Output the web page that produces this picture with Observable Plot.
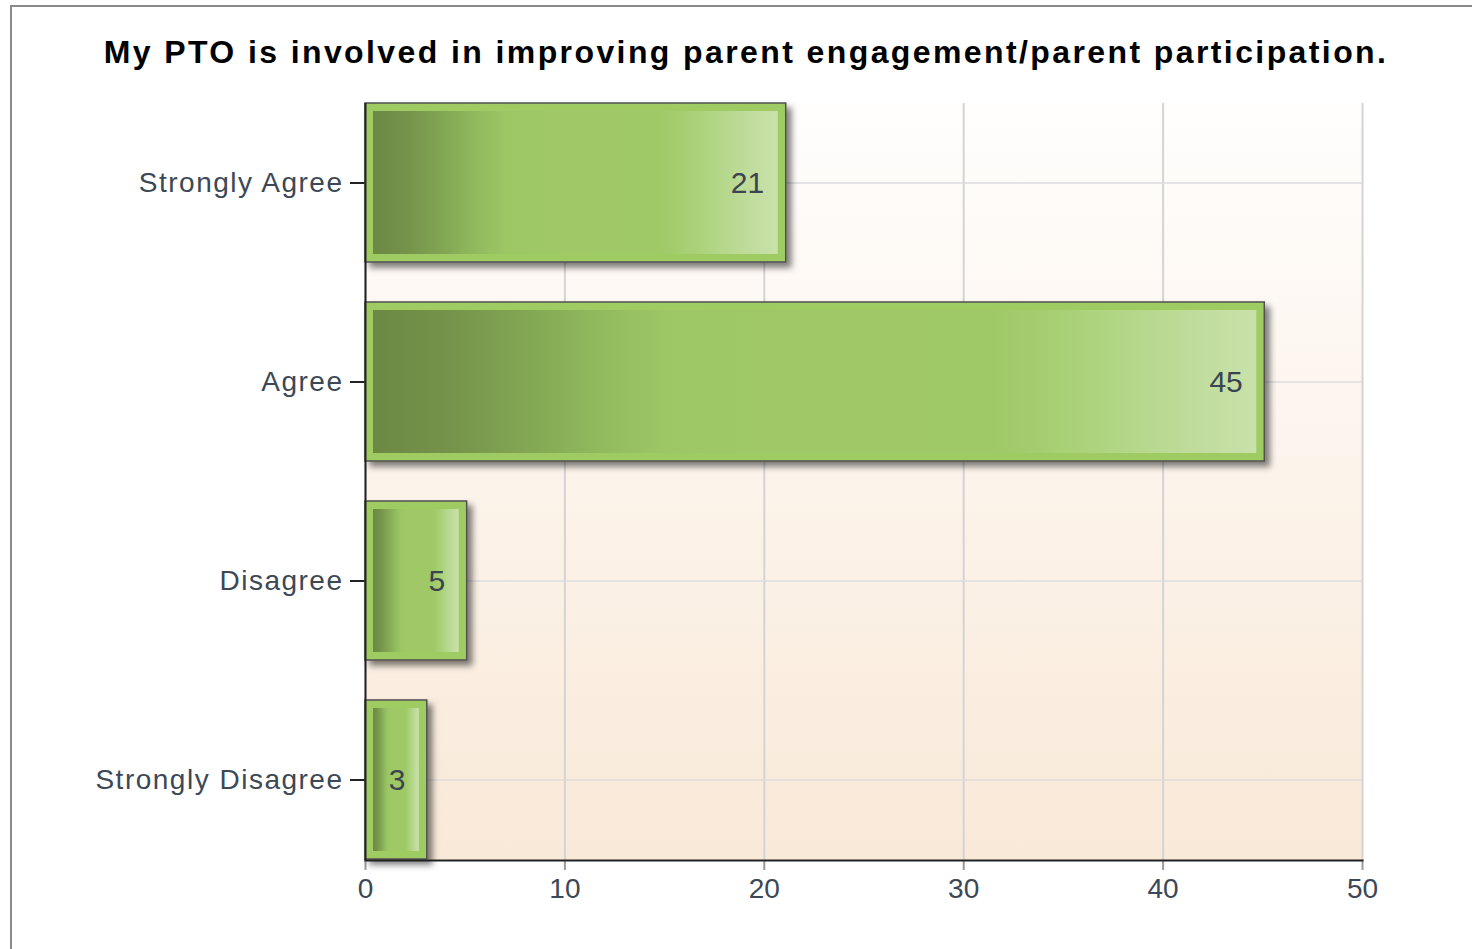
<!DOCTYPE html>
<html>
<head>
<meta charset="utf-8">
<script src="https://cdn.jsdelivr.net/npm/d3@7"></script>
<script src="https://cdn.jsdelivr.net/npm/@observablehq/plot@0.6"></script>
<style>
  html, body { margin: 0; padding: 0; background: #ffffff; overflow: hidden; }
  #wrap { position: relative; width: 1472px; height: 949px; overflow: hidden; }
  #border { position: absolute; left: 10px; top: 5px; width: 1600px; height: 1100px; border: 2px solid #8a8a8a; box-sizing: border-box; }
  #title { position: absolute; left: 0; top: 36px; width: 1492px; text-align: center;
           font-family: "Liberation Sans", Arial, sans-serif; font-weight: bold; font-size: 32px;
           line-height: 32px; letter-spacing: 2.4px; color: #000; white-space: nowrap; }
  #chart { position: absolute; left: 0; top: 0; }
</style>
</head>
<body>
<div id="wrap">
  <div id="border"></div>
  <div id="chart"></div>
  <div id="title"></div>
</div>
<script>
const categories = ["Strongly Agree", "Agree", "Disagree", "Strongly Disagree"];
const counts = [21, 45, 5, 3];
const xTicks = [0, 10, 20, 30, 40, 50];
const titleText = "My PTO is involved in improving parent engagement/parent participation.";

document.getElementById("title").textContent = titleText;

const data = categories.map((c, i) => ({category: c, count: counts[i]}));

const chart = Plot.plot({
  width: 1472,
  height: 949,
  marginLeft: 365,
  marginRight: 110,
  marginTop: 103,
  marginBottom: 89,
  style: {background: "transparent", fontFamily: "'Liberation Sans', Arial, sans-serif", color: "#3c4855"},
  x: {domain: [0, 50], axis: null},
  y: {domain: categories, paddingInner: 0.2, paddingOuter: 0, axis: null},
  marks: [
    Plot.frame({fill: "url(#bgGrad)", stroke: null}),
    Plot.gridX(xTicks, {stroke: "#d4d4d4", strokeOpacity: 1, strokeWidth: 2}),
    Plot.gridY(categories, {stroke: "#dcdcdc", strokeOpacity: 1, strokeWidth: 1.5}),
    Plot.axisX({ticks: xTicks, tickSize: 10, tickPadding: 8, stroke: "#9a9a9a", strokeWidth: 2, fill: "#3c4855", fontSize: 28, label: null}),
    Plot.axisY({tickSize: 15, tickPadding: 7, stroke: "#222", strokeWidth: 2, fill: "#3c4855", fontSize: 28, label: null}),
    Plot.barX(data, {x: "count", y: "category", fill: "#9ecc63", stroke: "#505050", strokeWidth: 1.5, insetRight: -2}),
    Plot.barX(data, {x: "count", y: "category", fill: "url(#barGrad)", insetTop: 8, insetBottom: 8, insetLeft: 8, insetRight: 6}),
    Plot.text(data, {x: "count", y: "category", text: d => String(d.count), textAnchor: "end", dx: -20, fontSize: 30, fill: "#3a4550"}),
    Plot.ruleX([0], {stroke: "#222", strokeWidth: 2}),
    Plot.frame({anchor: "bottom", stroke: "#222", strokeWidth: 2})
  ]
});

const svg = d3.select(chart);
const defs = svg.insert("defs", ":first-child");
const bg = defs.append("linearGradient").attr("id", "bgGrad").attr("x1", 0).attr("y1", 0).attr("x2", 0).attr("y2", 1);
bg.append("stop").attr("offset", "0%").attr("stop-color", "#fffefd");
bg.append("stop").attr("offset", "100%").attr("stop-color", "#f9e9d8");
const bar = defs.append("linearGradient").attr("id", "barGrad").attr("x1", 0).attr("y1", 0).attr("x2", 1).attr("y2", 0);
[
  [0, "#6c8944"], [0.08, "#74924a"], [0.16, "#80a352"], [0.25, "#8fb95d"], [0.33, "#9dc765"],
  [0.5, "#a0c866"], [0.7, "#9fc866"], [0.78, "#a8d075"], [0.86, "#b4d78a"], [0.93, "#c0dc9c"], [1, "#c9e1ab"]
].forEach(([o, c]) => bar.append("stop").attr("offset", o).attr("stop-color", c));
const filt = defs.append("filter").attr("id", "shadow").attr("x", "-10%").attr("y", "-10%").attr("width", "130%").attr("height", "130%");
filt.append("feDropShadow").attr("dx", 5).attr("dy", 5).attr("stdDeviation", 3).attr("flood-color", "#000").attr("flood-opacity", 0.5);

const barGroups = chart.querySelectorAll('g[aria-label="bar"]');
if (barGroups.length) barGroups[0].setAttribute("filter", "url(#shadow)");
chart.querySelectorAll('g[aria-label="y-axis tick label"] text').forEach(t => t.style.letterSpacing = "1.5px");

document.getElementById("chart").appendChild(chart);
</script>
</body>
</html>
